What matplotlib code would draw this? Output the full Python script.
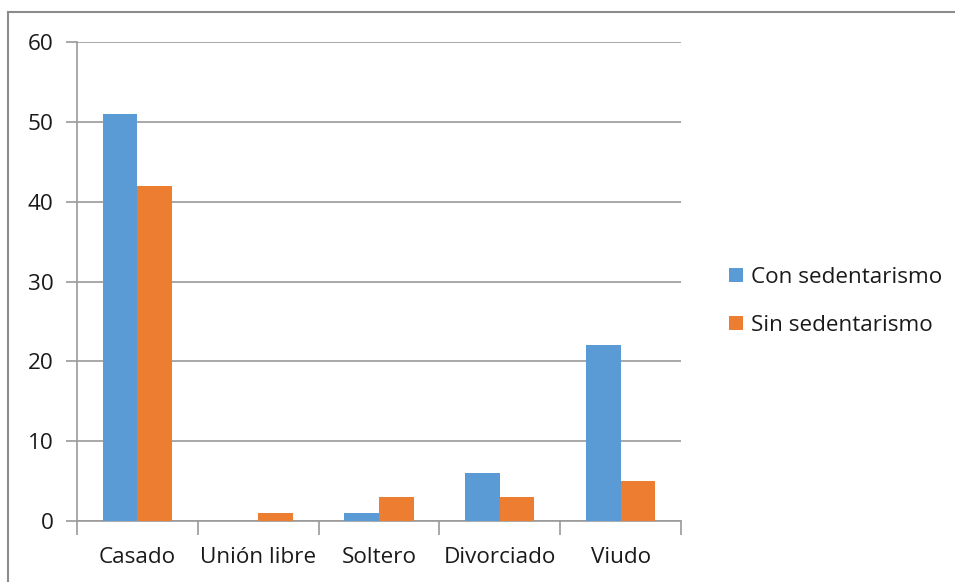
import matplotlib.pyplot as plt
import numpy as np
from matplotlib.lines import Line2D

categories = ["Casado", "Unión libre", "Soltero", "Divorciado", "Viudo"]
con_sedentarismo = [51, 0, 1, 6, 22]
sin_sedentarismo = [42, 1, 3, 3, 5]
series_names = ["Con sedentarismo", "Sin sedentarismo"]
yticks = [0, 10, 20, 30, 40, 50, 60]

blue = "#5B9BD5"
orange = "#ED7D31"
grid = "#9A9A9A"
text = "#1A1A1A"
fs = 16.2

plt.rcParams["font.family"] = ["Open Sans", "DejaVu Sans"]

fig = plt.figure(figsize=(9.55, 5.82), dpi=100)
ax = fig.add_axes([77 / 955, 1 - 521 / 582, (681 - 77) / 955, (521 - 42) / 582])

x = np.arange(len(categories))
w = 1 / 3.5
ax.bar(x - w / 2, con_sedentarismo, w, color=blue, label=series_names[0], zorder=3)
ax.bar(x + w / 2, sin_sedentarismo, w, color=orange, label=series_names[1], zorder=3)

ax.set_xlim(-0.5, len(categories) - 0.5)
ax.set_ylim(0, 60)
ax.set_yticks(yticks)
ax.yaxis.grid(True, color=grid, linewidth=1.2, zorder=0)

ax.set_xticks(x)
ax.set_xticklabels(categories)
ax.set_xticks(np.arange(len(categories) + 1) - 0.5, minor=True)
ax.tick_params(axis="x", which="major", length=0, pad=19, labelsize=fs, labelcolor=text)
ax.tick_params(axis="x", which="minor", length=10, width=1.2, color=grid)
ax.tick_params(axis="y", length=8, width=1.2, color=grid, pad=9, labelsize=fs, labelcolor=text)

for side in ["top", "right"]:
    ax.spines[side].set_visible(False)
for side in ["left", "bottom"]:
    ax.spines[side].set_color(grid)
    ax.spines[side].set_linewidth(1.2)

leg = fig.legend(loc="upper left", bbox_to_anchor=(720 / 955, 1 - 258 / 582),
                 frameon=False, fontsize=fs, handlelength=0.62, handleheight=0.62,
                 handletextpad=0.35, labelspacing=1.2, borderaxespad=0)
for t in leg.get_texts():
    t.set_color(text)

# chart area outline
fig.add_artist(Line2D([8 / 955, 1], [1 - 12 / 582] * 2, color="#8C8C8C", linewidth=1.5))
fig.add_artist(Line2D([8 / 955] * 2, [0, 1 - 12 / 582], color="#8C8C8C", linewidth=1.5))

fig.savefig("out.png", dpi=100)
